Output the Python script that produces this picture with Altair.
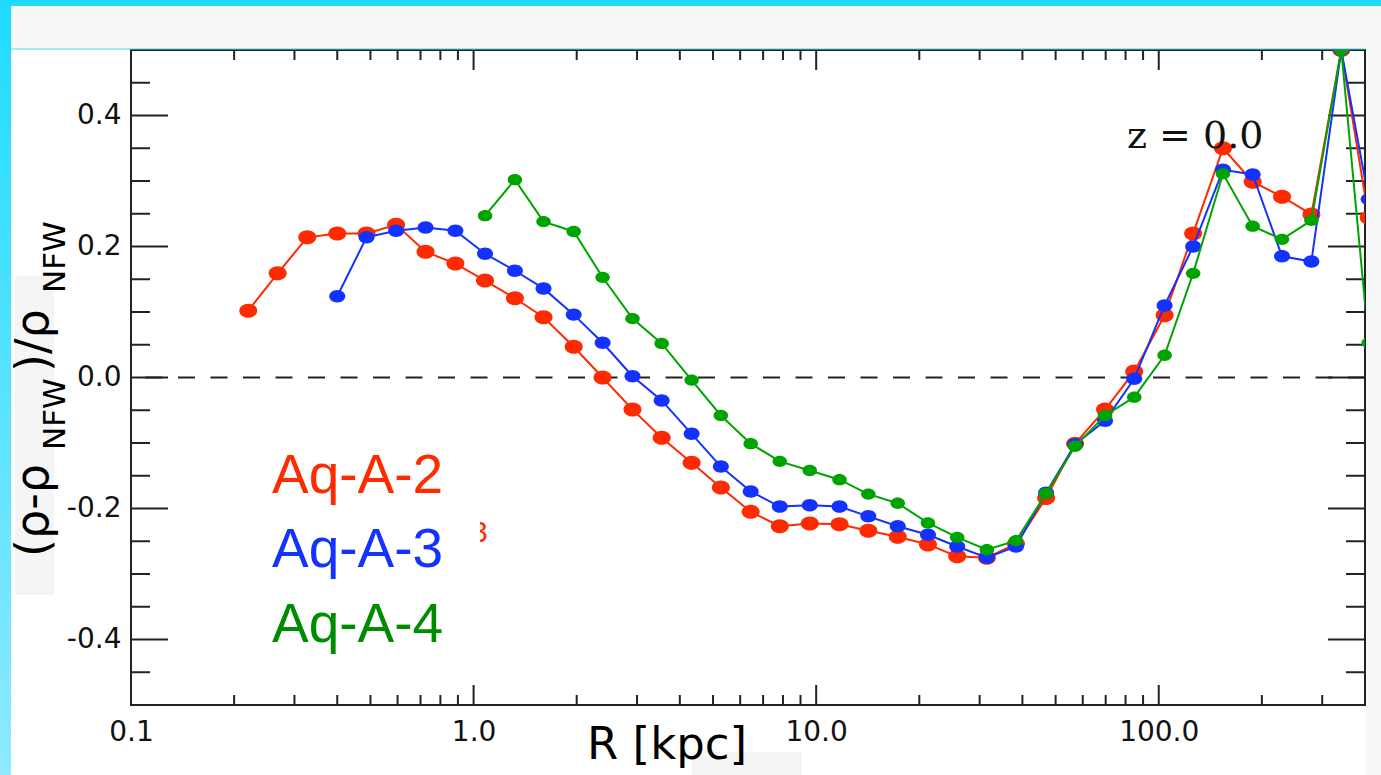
import altair as alt
import pandas as pd

# ---------------- data ----------------
R_KPC = [0.220, 0.268, 0.327, 0.400, 0.487, 0.594, 0.724, 0.885, 1.08, 1.32,
         1.60, 1.96, 2.38, 2.91, 3.54, 4.33, 5.27, 6.44, 7.83, 9.58,
         11.7, 14.2, 17.3, 21.2, 25.8, 31.5, 38.3, 46.9, 57.0, 69.7,
         84.8, 104.0, 126.0, 154.0, 188.0, 229.0, 279.0, 341.0, 410.0]

AQ_A2 = [0.102, 0.159, 0.214, 0.220, 0.220, 0.233, 0.192, 0.174, 0.148, 0.121,
         0.092, 0.047, 0.000, -0.049, -0.092, -0.130, -0.168, -0.205, -0.227, -0.223,
         -0.224, -0.234, -0.243, -0.255, -0.273, -0.275, -0.254, -0.184, -0.101, -0.049,
         0.009, 0.095, 0.220, 0.350, 0.299, 0.276, 0.249, 0.500, 0.244]

R_A3 = R_KPC[3:]
AQ_A3 = [0.124, 0.214, 0.224, 0.229, 0.224, 0.189, 0.163, 0.136, 0.096,
         0.053, 0.002, -0.035, -0.086, -0.136, -0.174, -0.197, -0.195, -0.197, -0.212,
         -0.227, -0.240, -0.258, -0.275, -0.258, -0.176, -0.102, -0.066, -0.002, 0.110,
         0.200, 0.317, 0.310, 0.185, 0.177, 0.500, 0.272]

R_A4 = R_KPC[8:]
AQ_A4 = [0.247, 0.302, 0.238, 0.223, 0.153, 0.090, 0.052, -0.004, -0.058, -0.101,
         -0.128, -0.142, -0.156, -0.178, -0.192, -0.222, -0.244, -0.263, -0.249, -0.177,
         -0.105, -0.058, -0.030, 0.034, 0.159, 0.311, 0.231, 0.211, 0.240, 0.500, 0.053]

SERIES = ["Aq-A-2", "Aq-A-3", "Aq-A-4"]
X_LABELS = [0.1, 1, 10, 100]
Y_LABELS = [-0.4, -0.2, 0.0, 0.2, 0.4]
X_MAJOR = [1, 10, 100]
X_MINOR = [0.2, 0.3, 0.4, 0.5, 0.6, 0.7, 0.8, 0.9,
           2, 3, 4, 5, 6, 7, 8, 9,
           20, 30, 40, 50, 60, 70, 80, 90, 200, 300]
Y_MAJOR = [-0.4, -0.2, 0.0, 0.2, 0.4]
Y_MINOR = [-0.45, -0.35, -0.3, -0.25, -0.15, -0.1, -0.05,
           0.05, 0.1, 0.15, 0.25, 0.3, 0.35, 0.45]
ZERO = [0.0]

# ---------------- styling ----------------
W, H = 1234, 655
INK = "#222222"
RED, BLUE, GREEN = "#ff2a00", "#1432ff", "#00a400"
GREEN_TXT = "#008c00"
ELLIPSE = "M-1,0A1,0.78,0,1,0,1,0A1,0.78,0,1,0,-1,0Z"

x_axis = alt.Axis(values=X_LABELS, format=".1f", ticks=False, tickSize=0, domain=False,
                  grid=False, title=None, labelFont="DejaVu Sans", labelFontSize=28,
                  labelColor="#111111", labelPadding=13, labelFlush=False)
y_axis = alt.Axis(values=Y_LABELS, ticks=False, tickSize=0, domain=False, grid=False,
                  title=None, labelFont="DejaVu Sans", labelFontSize=28,
                  labelColor="#111111", labelPadding=10, labelFlush=False,
                  labelExpr="replace(format(datum.value, '.1f'), '\u2212', '-')")
X = alt.X("R:Q", scale=alt.Scale(type="log", domain=[0.1, 400], nice=False), axis=x_axis)
Y = alt.Y("v:Q", scale=alt.Scale(domain=[-0.5, 0.5], nice=False, zero=False), axis=y_axis)

one = pd.DataFrame({"a": [0]})


def box(x1, x2, y1, y2, color):
    return alt.Chart(one).mark_rect(color=color, opacity=1).encode(
        x=alt.value(x1), x2=alt.value(x2), y=alt.value(y1), y2=alt.value(y2))


def label(txt, x, y, font, size, color, angle=0, align="left"):
    return alt.Chart(one).mark_text(text=txt, font=font, fontSize=size, color=color,
                                    align=align, baseline="alphabetic", angle=angle).encode(
        x=alt.value(x), y=alt.value(y))


layers = []

# decorative frame of the screenshot
gradient = alt.Gradient(gradient="linear",
                        stops=[alt.GradientStop(color="#1edcff", offset=0),
                               alt.GradientStop(color="#8fe9ff", offset=1)],
                        x1=0, x2=0, y1=0, y2=1)
layers.append(box(-120, W + 16, -44, -1, "#f7f7f7"))
layers.append(box(W + 1, W + 16, -44, H + 70, "#f7f7f7"))
layers.append(alt.Chart(one).mark_rule(color="#4fd3f0", strokeWidth=1).encode(
    x=alt.value(-120), x2=alt.value(W), y=alt.value(-1)))
layers.append(box(-131, W + 16, -50, -44, "#1edcff"))
layers.append(alt.Chart(one).mark_rect(color=gradient).encode(
    x=alt.value(-131), x2=alt.value(-120), y=alt.value(-50), y2=alt.value(H + 70)))
layers.append(box(-116, -77, 226, 545, "#f5f5f5"))
layers.append(box(561, 671, 702, H + 70, "#f5f5f5"))

# zero line
layers.append(alt.Chart(pd.DataFrame({"v": ZERO})).mark_rule(
    color=INK, strokeWidth=2, strokeDash=[17, 15.5]).encode(y=Y))


# inward ticks on all four sides
def xticks(vals, length):
    d = pd.DataFrame({"R": vals})
    return [
        alt.Chart(d).mark_rule(color=INK, strokeWidth=2).encode(
            x=X, y=alt.value(H), y2=alt.value(H - length)),
        alt.Chart(d).mark_rule(color=INK, strokeWidth=2).encode(
            x=X, y=alt.value(0), y2=alt.value(length)),
    ]


def yticks(vals, length):
    d = pd.DataFrame({"v": vals})
    return [
        alt.Chart(d).mark_rule(color=INK, strokeWidth=2).encode(
            y=Y, x=alt.value(0), x2=alt.value(length)),
        alt.Chart(d).mark_rule(color=INK, strokeWidth=2).encode(
            y=Y, x=alt.value(W), x2=alt.value(W - length)),
    ]


layers += xticks(X_MAJOR, 20) + xticks(X_MINOR, 10)
layers += yticks(Y_MAJOR, 37) + yticks(Y_MINOR, 19)

# series
for rs, vs, col, size in [(R_KPC, AQ_A2, RED, 324), (R_A3, AQ_A3, BLUE, 256),
                          (R_A4, AQ_A4, GREEN, 210)]:
    d = pd.DataFrame({"R": rs, "v": vs})
    layers.append(alt.Chart(d).mark_line(color=col, strokeWidth=2, clip=True).encode(x=X, y=Y))
    layers.append(alt.Chart(d).mark_point(shape=ELLIPSE, size=size, filled=True, color=col,
                                          opacity=1, strokeWidth=0, clip=True).encode(x=X, y=Y))

# legend-like labels
layers.append(label(SERIES[0], 141, 443, "Liberation Sans", 55, RED))
layers.append(label(SERIES[1], 141, 517, "Liberation Sans", 55, BLUE))
layers.append(label(SERIES[2], 141, 592, "Liberation Sans", 55, GREEN_TXT))
layers.append(label("3", 340, 492, "Liberation Sans", 30, RED))
layers.append(box(335, 349, 465, 497, "#ffffff"))

# redshift label
layers.append(label("z = 0.0", 996, 98, "DejaVu Serif", 38, "#111111"))

# axis titles
layers.append(label("R [kpc]", 456, 709, "DejaVu Sans", 45, "#000000"))
layers.append(label("(\u03c1-\u03c1", -83, 507, "DejaVu Sans", 46, "#000000", angle=270))
layers.append(label("NFW", -66, 400, "DejaVu Sans", 31, "#000000", angle=270))
layers.append(label(")/\u03c1", -83, 322, "DejaVu Sans", 46, "#000000", angle=270))
layers.append(label("NFW", -66, 243, "DejaVu Sans", 31, "#000000", angle=270))

chart = alt.layer(*layers).properties(
    width=W, height=H,
    padding={"left": 131, "top": 50, "right": 16, "bottom": 70},
    autosize=alt.AutoSizeParams(type="none"),
    background="#ffffff",
).configure_view(stroke=INK, strokeWidth=2, fill="#ffffff")

chart.save("out.html", embed_options={"renderer": "svg", "actions": False})
